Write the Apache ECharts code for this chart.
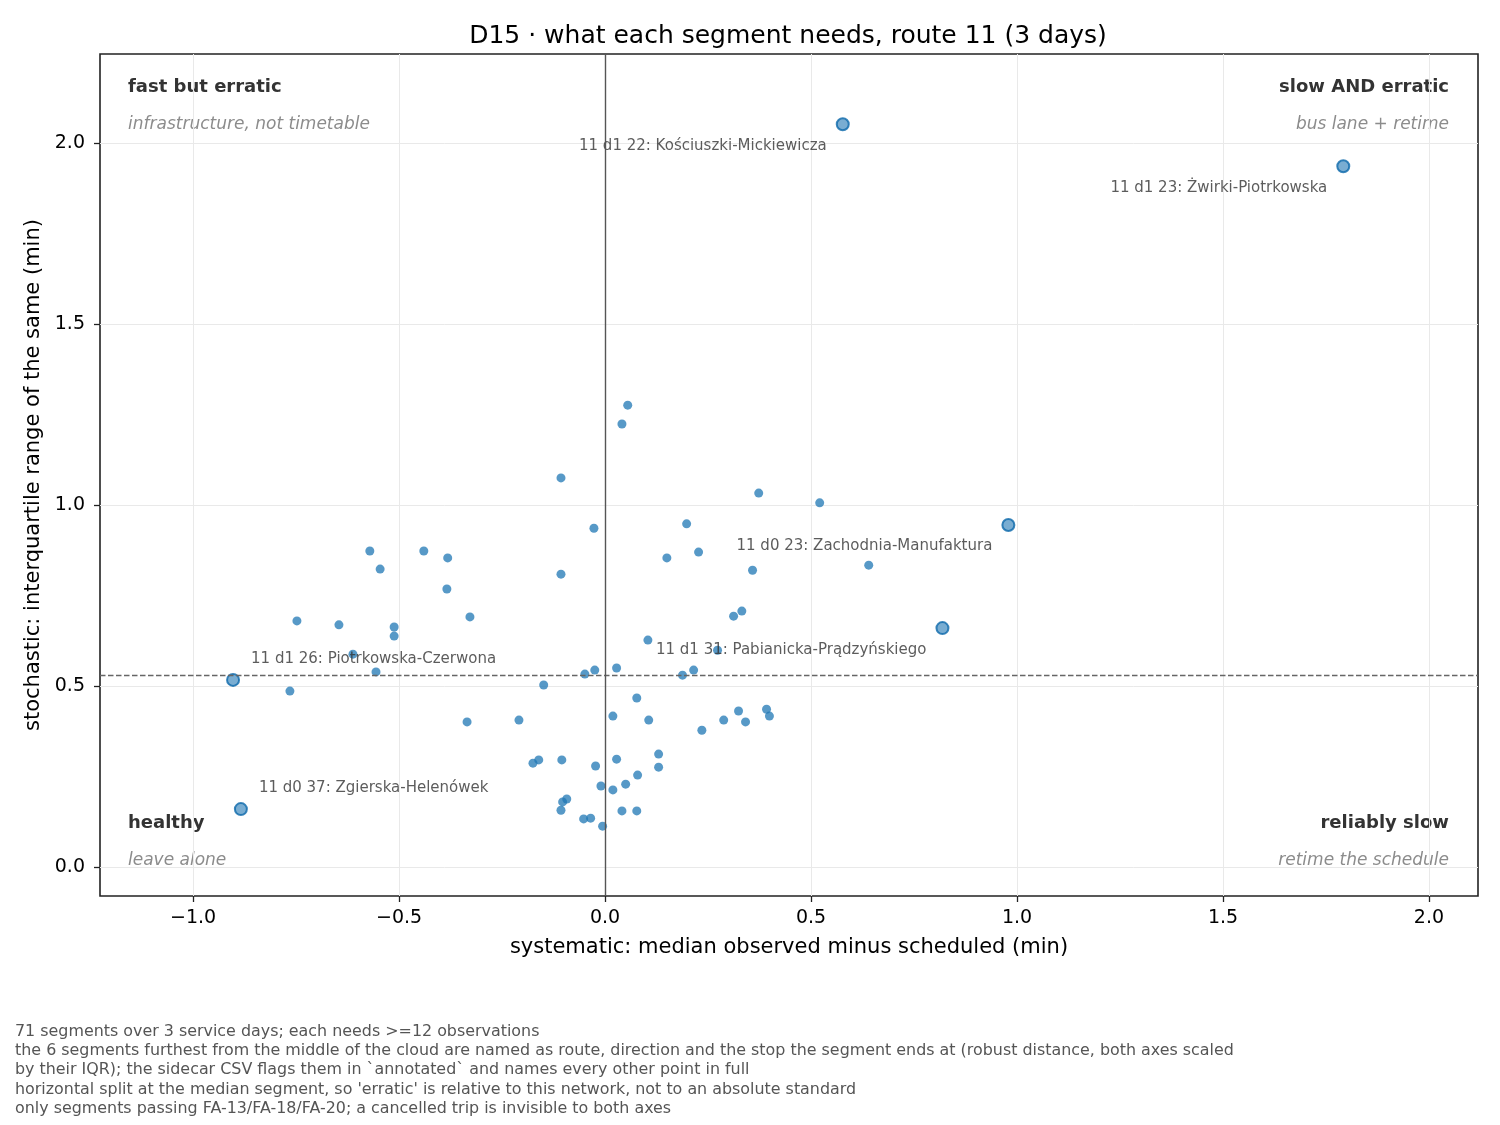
<!DOCTYPE html>
<html>
  <head>
    <meta charset="utf-8" />
    <title>D15 segment needs, route 11</title>
    <script src="https://cdn.jsdelivr.net/npm/echarts@6/dist/echarts.min.js"></script>
  </head>
  <body style="margin:0;padding:0;background:#fff;">
    <div id="chart" style="width:1500px;height:1125px;"></div>
    <script type="text/javascript">
      // all segments except the six named ones
      var segX = [0.055, 0.041, -0.107, 0.373, 0.521, -0.027, 0.198, 0.227, 0.150, 0.358,
                  0.640, -0.107, -0.571, -0.440, -0.382, -0.546, -0.384, -0.328, -0.748, -0.646,
                  -0.512, -0.512, -0.612, -0.556, -0.765, 0.332, 0.312, 0.104, 0.273, 0.215,
                  0.188, -0.025, -0.049, 0.028, -0.149, 0.077, 0.019, 0.106, -0.335, -0.209,
                  0.235, 0.288, 0.324, 0.341, 0.392, 0.399, 0.130, 0.130, -0.175, -0.161,
                  -0.105, -0.023, 0.028, 0.079, 0.050, -0.010, 0.019, -0.103, -0.093, -0.107,
                  -0.052, -0.035, -0.006, 0.041, 0.077];
      var segY = [1.276, 1.224, 1.075, 1.033, 1.006, 0.936, 0.948, 0.870, 0.854, 0.820,
                  0.834, 0.809, 0.873, 0.873, 0.854, 0.823, 0.768, 0.691, 0.680, 0.669,
                  0.663, 0.638, 0.588, 0.539, 0.486, 0.707, 0.693, 0.627, 0.599, 0.544,
                  0.530, 0.544, 0.533, 0.550, 0.503, 0.467, 0.417, 0.406, 0.401, 0.406,
                  0.378, 0.406, 0.431, 0.401, 0.436, 0.417, 0.312, 0.276, 0.287, 0.296,
                  0.296, 0.279, 0.298, 0.254, 0.229, 0.224, 0.213, 0.180, 0.188, 0.157,
                  0.133, 0.135, 0.113, 0.155, 0.155];

      // the six named outliers
      var hlNames = ['11 d1 22: Kościuszki-Mickiewicza', '11 d1 23: Żwirki-Piotrkowska',
                     '11 d0 23: Zachodnia-Manufaktura', '11 d1 31: Pabianicka-Prądzyńskiego',
                     '11 d1 26: Piotrkowska-Czerwona', '11 d0 37: Zgierska-Helenówek'];
      var hlX = [0.577, 1.792, 0.979, 0.819, -0.903, -0.884];
      var hlY = [2.052, 1.936, 0.945, 0.660, 0.517, 0.160];

      var medianY = 0.534;
      var xTicks = [-1.0, -0.5, 0.0, 0.5, 1.0, 1.5, 2.0];
      var yTicks = [0.0, 0.5, 1.0, 1.5, 2.0];

      var footLines = [
        '71 segments over 3 service days; each needs >=12 observations',
        'the 6 segments furthest from the middle of the cloud are named as route, direction and the stop the segment ends at (robust distance, both axes scaled',
        'by their IQR); the sidecar CSV flags them in `annotated` and names every other point in full',
        "horizontal split at the median segment, so 'erratic' is relative to this network, not to an absolute standard",
        'only segments passing FA-13/FA-18/FA-20; a cancelled trip is invisible to both axes'
      ];

      var FONT = 'DejaVu Sans';
      var pts = segX.map(function (x, i) { return [x, segY[i]]; });
      var hlPts = hlX.map(function (x, i) {
        var right = x > 0;
        return {
          value: [x, hlY[i]],
          label: {
            show: true,
            formatter: hlNames[i],
            position: right ? 'left' : 'right',
            distance: right ? 9 : 11,
            offset: right ? [0, 21.5] : [0, -21],
            fontFamily: FONT,
            fontSize: 15,
            color: '#333'
          }
        };
      });

      function tickFmt(v) {
        var s = v.toFixed(1);
        return v < 0 ? '\u2212' + s.slice(1) : s;
      }

      var myChart = echarts.init(document.getElementById('chart'), null, { renderer: 'canvas' });
      myChart.setOption({
        animation: false,
        backgroundColor: '#fff',
        title: {
          text: 'D15 \u00b7 what each segment needs, route 11 (3 days)',
          left: 783, top: 19, textAlign: 'center',
          textStyle: { fontFamily: FONT, fontSize: 25, fontWeight: 'normal', color: '#000' }
        },
        grid: {
          left: 100, right: 22, top: 54, bottom: 229,
          show: true, borderColor: '#222', borderWidth: 1.6, backgroundColor: 'transparent'
        },
        xAxis: {
          type: 'value', min: -1.226, max: 2.119,
          name: 'systematic: median observed minus scheduled (min)',
          nameLocation: 'middle', nameGap: 41,
          nameTextStyle: { fontFamily: FONT, fontSize: 21, color: '#000' },
          axisLine: { show: false, onZero: false },
          axisTick: { show: true, length: 6, lineStyle: { color: '#222', width: 1.3 }, customValues: xTicks },
          axisLabel: { fontFamily: FONT, fontSize: 19, color: '#000', margin: 13,
                       customValues: xTicks, formatter: tickFmt },
          splitLine: { show: true, lineStyle: { color: '#e9e9e9', width: 1 } }
        },
        yAxis: {
          type: 'value', min: -0.08, max: 2.246,
          name: 'stochastic: interquartile range of the same (min)',
          nameLocation: 'middle', nameGap: 56,
          nameTextStyle: { fontFamily: FONT, fontSize: 21, color: '#000' },
          axisLine: { show: false, onZero: false },
          axisTick: { show: true, length: 6, lineStyle: { color: '#222', width: 1.3 }, customValues: yTicks },
          axisLabel: { fontFamily: FONT, fontSize: 19, color: '#000', margin: 15,
                       customValues: yTicks, formatter: tickFmt },
          splitLine: { show: true, lineStyle: { color: '#e9e9e9', width: 1 } }
        },
        series: [
          {
            type: 'scatter',
            data: pts,
            symbolSize: 9,
            itemStyle: { color: '#1f77b4', opacity: 0.75 },
            z: 3,
            markLine: {
              silent: true, symbol: 'none', label: { show: false },
              data: [
                { yAxis: medianY, lineStyle: { type: [5.5, 2.5], color: '#666', width: 1.4 } },
                { xAxis: 0, lineStyle: { type: 'solid', color: '#555', width: 1.4 } }
              ]
            }
          },
          {
            type: 'scatter',
            data: hlPts,
            symbolSize: 12,
            itemStyle: { color: 'rgba(31,119,180,0.75)', borderColor: '#0b68aa', borderWidth: 2 },
            z: 4
          }
        ],
        graphic: [
          { type: 'text', left: 128, top: 78, style: { text: 'fast but erratic', font: 'bold 18px "DejaVu Sans"', fill: '#333' } },
          { type: 'text', left: 128, top: 116, style: { text: 'infrastructure, not timetable', font: 'italic 17px "DejaVu Sans"', fill: '#8c8c8c' } },
          { type: 'text', right: 51, top: 78, style: { text: 'slow AND erratic', font: 'bold 18px "DejaVu Sans"', fill: '#333' } },
          { type: 'text', right: 51, top: 116, style: { text: 'bus lane + retime', font: 'italic 17px "DejaVu Sans"', fill: '#8c8c8c' } },
          { type: 'text', left: 128, top: 814, style: { text: 'healthy', font: 'bold 18px "DejaVu Sans"', fill: '#333' } },
          { type: 'text', left: 128, top: 852, style: { text: 'leave alone', font: 'italic 17px "DejaVu Sans"', fill: '#8c8c8c' } },
          { type: 'text', right: 51, top: 814, style: { text: 'reliably slow', font: 'bold 18px "DejaVu Sans"', fill: '#333' } },
          { type: 'text', right: 51, top: 852, style: { text: 'retime the schedule', font: 'italic 17px "DejaVu Sans"', fill: '#8c8c8c' } },
          { type: 'text', left: 15, top: 1022, style: { text: footLines.join('\n'), font: '15.9px "DejaVu Sans"', fill: '#555', lineHeight: 19.3 } }
        ]
      });
    </script>
  </body>
</html>
